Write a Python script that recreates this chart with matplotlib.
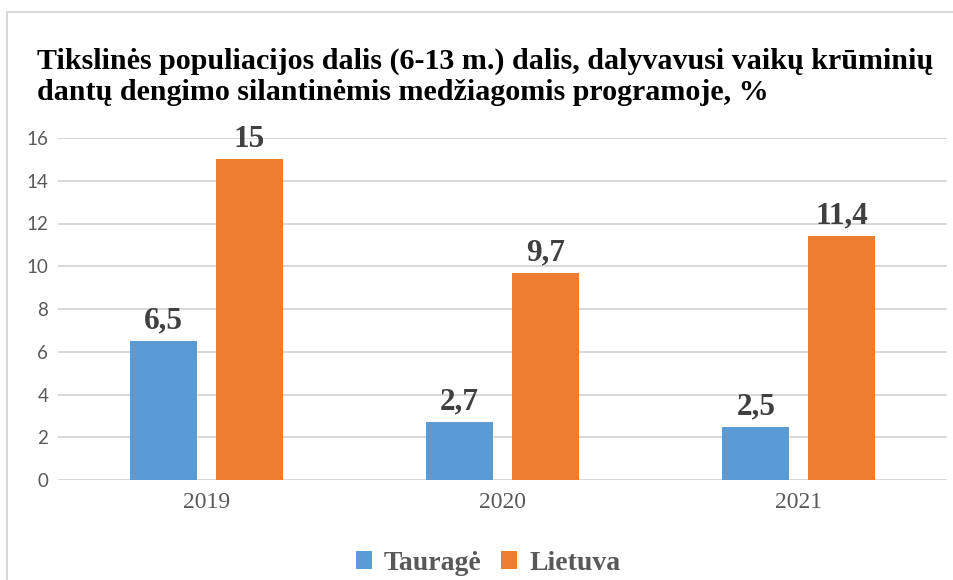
import matplotlib.pyplot as plt
import matplotlib.patches as mpatches
import numpy as np

years = ['2019', '2020', '2021']
taurage = [6.5, 2.7, 2.5]
lietuva = [15, 9.7, 11.4]
series_names = ['Tauragė', 'Lietuva']
title_lines = ['Tikslinės populiacijos dalis (6-13 m.) dalis, dalyvavusi vaikų krūminių',
               'dantų dengimo silantinėmis medžiagomis programoje, %']

BLUE = '#5B9BD5'
ORANGE = '#ED7D31'
SERIF = ['Liberation Serif', 'DejaVu Serif']
SANS = ['Lato', 'DejaVu Sans']

fig = plt.figure(figsize=(9.54, 5.8), dpi=100)
ax = fig.add_axes([58/954, 100/580, 889/954, 342/580])

x = np.arange(len(years))
w = 0.226
off = 0.145
b1 = ax.bar(x - off, taurage, w, color=BLUE, label=series_names[0], zorder=3)
b2 = ax.bar(x + off, lietuva, w, color=ORANGE, label=series_names[1], zorder=3)

def fmt(v):
    return ('%g' % v).replace('.', ',')

# value labels above bars
for bars, vals in ((b1, taurage), (b2, lietuva)):
    for r, v in zip(bars, vals):
        ax.annotate(fmt(v), (r.get_x() + r.get_width()/2, v), xytext=(0, 4),
                    textcoords='offset points', ha='center', va='bottom',
                    fontsize=22.5, fontweight='bold', family=SERIF, color='#404040')

ax.set_xlim(-0.5, 2.5)
ax.set_ylim(0, 16)
ax.set_yticks(range(0, 17, 2))
ax.set_xticks(x)
ax.set_xticklabels(years)
ax.grid(axis='y', color='#d9d9d9', linewidth=1.5, zorder=0)
for s in ax.spines.values():
    s.set_visible(False)
ax.tick_params(length=0, labelcolor='#595959')
for lab in ax.get_xticklabels():
    lab.set_family(SERIF)
    lab.set_fontsize(17)
for lab in ax.get_yticklabels():
    lab.set_family(SANS)
    lab.set_fontsize(13.5)
ax.tick_params(axis='x', pad=9)
ax.tick_params(axis='y', pad=7)

# title, one line at a time so the baselines sit where they should
for i, line in enumerate(title_lines):
    fig.text(37/954, 1 - (69 + 31*i)/580, line, ha='left', va='baseline',
             fontsize=21.6, fontweight='bold', family=SERIF)

leg = fig.legend(handles=[b1, b2], loc='center', bbox_to_anchor=(488/954, 1 - 563/580),
                 ncol=2, frameon=False, handlelength=0.6, handleheight=0.6,
                 handletextpad=0.43, columnspacing=0.68,
                 prop={'family': SERIF, 'weight': 'bold', 'size': 20})
for t in leg.get_texts():
    t.set_color('#595959')

border = mpatches.Rectangle((7/954, -0.05), 1.0, 1 - 12/580 + 0.05, transform=fig.transFigure,
                            fill=False, edgecolor='#d9d9d9', linewidth=1.5)
fig.add_artist(border)

fig.savefig('out.png', dpi=100)
